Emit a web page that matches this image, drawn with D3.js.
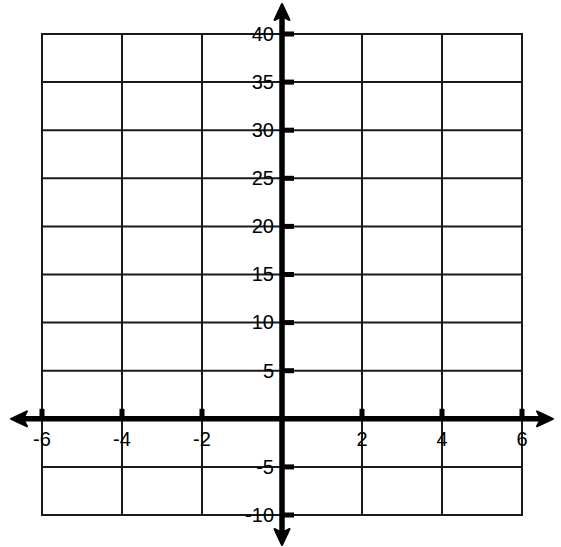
<!DOCTYPE html>
<html>
<head>
<meta charset="utf-8">
<script src="https://cdn.jsdelivr.net/npm/d3@7"></script>
<style>
  html, body { margin: 0; padding: 0; background: #fff; }
  svg { display: block; }
  text { font-family: "Liberation Sans", Arial, sans-serif; font-size: 20px; fill: #000; }
</style>
</head>
<body>
<svg id="chart" width="561" height="547"></svg>
<script>
// grid + label values
var xGrid = [-6, -4, -2, 0, 2, 4, 6];
var yGrid = [-10, -5, 0, 5, 10, 15, 20, 25, 30, 35, 40];
var xLabels = [-6, -4, -2, 2, 4, 6];
var yLabels = [-10, -5, 5, 10, 15, 20, 25, 30, 35, 40];

var svg = d3.select("#chart");

var x = d3.scaleLinear().domain([-6, 6]).range([42, 522]);
var y = d3.scaleLinear().domain([-10, 40]).range([515, 34]);

var x0 = x(0), y0 = y(0);

// grid
var grid = svg.append("g").attr("stroke", "#1a1a1a").attr("stroke-width", 2);
grid.selectAll("line.v").data(xGrid).enter().append("line")
    .attr("x1", d => x(d)).attr("x2", d => x(d))
    .attr("y1", y(40)).attr("y2", y(-10));
grid.selectAll("line.h").data(yGrid).enter().append("line")
    .attr("x1", x(-6) - 1).attr("x2", x(6) + 1)
    .attr("y1", d => y(d)).attr("y2", d => y(d));

// labels (drawn under axes, gridlines pass through them)
svg.append("g").selectAll("text").data(yLabels).enter().append("text")
    .attr("x", x0 - 8).attr("y", d => y(d)).attr("dy", "0.34em")
    .attr("text-anchor", "end")
    .text(d => d);

svg.append("g").selectAll("text").data(xLabels).enter().append("text")
    .attr("x", d => x(d)).attr("y", y0 + 27)
    .attr("text-anchor", "middle")
    .text(d => d);

// tick marks
svg.append("g").selectAll("rect").data(xLabels).enter().append("rect")
    .attr("x", d => x(d) - 2.5).attr("y", y0 - 10)
    .attr("width", 5).attr("height", 10).attr("fill", "#000");
svg.append("g").selectAll("rect").data(yLabels).enter().append("rect")
    .attr("x", x0).attr("y", d => y(d) - 2.5)
    .attr("width", 12).attr("height", 5).attr("fill", "#000");

// axes
var axes = svg.append("g").attr("stroke", "#000").attr("stroke-width", 5.5);
axes.append("line").attr("x1", 20).attr("x2", 545).attr("y1", y0).attr("y2", y0);
axes.append("line").attr("x1", x0).attr("x2", x0).attr("y1", 12).attr("y2", 537);

// arrowheads: tip at (0,0), pointing right
function arrow(tx, ty, angle) {
    svg.append("path")
        .attr("d", "M0,0 L-16,-7.5 L-12,0 L-16,7.5 Z")
        .attr("fill", "#000")
        .attr("stroke", "#000")
        .attr("stroke-width", 2)
        .attr("stroke-linejoin", "round")
        .attr("transform", "translate(" + tx + "," + ty + ") rotate(" + angle + ")");
}
arrow(553, y0, 0);
arrow(11, y0, 180);
arrow(x0, 4, -90);
arrow(x0, 545, 90);
</script>
</body>
</html>
